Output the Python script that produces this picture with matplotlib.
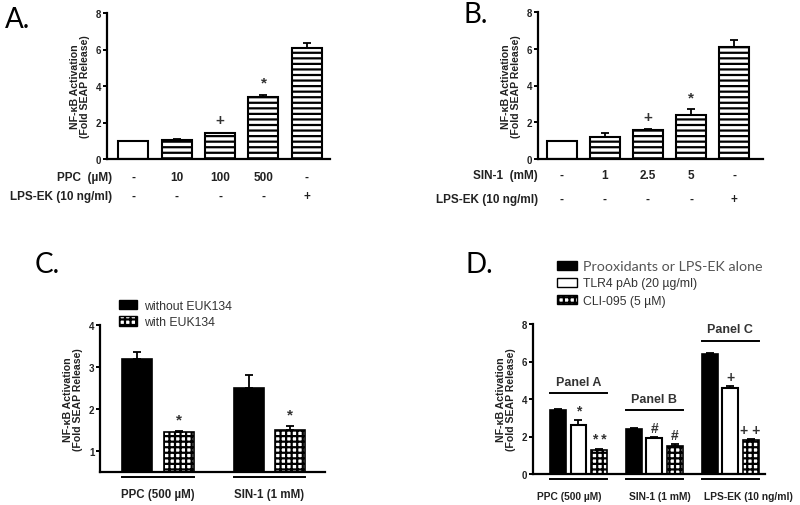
import numpy as np
import matplotlib
matplotlib.use("Agg")
import matplotlib.pyplot as plt
import matplotlib.patches as mpatches

plt.rcParams['font.family'] = ['Liberation Sans', 'DejaVu Sans']
plt.rcParams['hatch.linewidth'] = 1.6

W, H = 800, 506

# ---- data ----
# panel A: PPC dose response
a_vals = [1.0, 1.05, 1.4, 3.4, 6.1]
a_err = [0.0, 0.05, 0.05, 0.1, 0.25]
a_ppc = ['-', '10', '100', '500', '-']
a_lps = ['-', '-', '-', '-', '+']
a_marks = ['', '', '+', '*', '']

# panel B: SIN-1 dose response
b_vals = [1.0, 1.2, 1.6, 2.4, 6.1]
b_err = [0.0, 0.2, 0.05, 0.3, 0.4]
b_sin = ['-', '1', '2.5', '5', '-']
b_lps = ['-', '-', '-', '-', '+']
b_marks = ['', '', '+', '*', '']

# panel C: with / without EUK134
c_groups = ['PPC (500 \u00b5M)', 'SIN-1 (1 mM)']
c_without = [3.2, 2.5]
c_without_err = [0.15, 0.3]
c_with = [1.45, 1.5]
c_with_err = [0.03, 0.1]
c_marks = ['*', '*']

# panel D: TLR4 blockade
d_groups = ['PPC (500 \u00b5M)', 'SIN-1 (1 mM)', 'LPS-EK (10 ng/ml)']
d_alone = [3.4, 2.4, 6.4]
d_alone_err = [0.05, 0.05, 0.08]
d_tlr4 = [2.6, 1.9, 4.6]
d_tlr4_err = [0.3, 0.05, 0.08]
d_cli = [1.3, 1.5, 1.8]
d_cli_err = [0.05, 0.1, 0.05]
d_tlr4_marks = ['*', '#', '+']
d_cli_marks = ['* *', '#', '+ +']
d_panels = ['Panel A', 'Panel B', 'Panel C']
d_panel_y = [4.3, 3.4, 7.1]

ylab = 'NF-\u03baB Activation\n(Fold SEAP Release)'
txt = '#222222'


def px_axes(left, right, top, bottom):
    return fig.add_axes([left / W, 1 - bottom / H, (right - left) / W, (bottom - top) / H])


def style(ax):
    for s in ['top', 'right']:
        ax.spines[s].set_visible(False)
    for s in ['left', 'bottom']:
        ax.spines[s].set_linewidth(1.6)
    ax.tick_params(axis='y', length=3, width=1.4, labelsize=7, pad=1, labelcolor=txt)
    ax.tick_params(axis='x', length=0, labelbottom=False)
    for t in ax.get_yticklabels():
        t.set_fontweight('bold')
    ax.set_ylabel(ylab, fontsize=7.6, fontweight='bold', labelpad=4, linespacing=1.1, color=txt)


def errs(ax, x, v, e):
    x = np.asarray(x, float)
    v = np.asarray(v, float)
    e = np.asarray(e, float)
    ax.errorbar(x, v, yerr=[np.zeros_like(e), e], fmt='none', ecolor='k',
                elinewidth=1.3, capsize=3, capthick=1.3)


fig = plt.figure(figsize=(W / 100, H / 100), dpi=100)

# ---- A ----
ax = px_axes(107, 330, 14, 160)
x = np.arange(len(a_vals))
hatches = [''] + ['---'] * 4
for i in x:
    ax.bar(i, a_vals[i], width=0.69, color='white', edgecolor='k', linewidth=1.5, hatch=hatches[i])
errs(ax, x[1:], a_vals[1:], a_err[1:])
for i in x:
    if a_marks[i]:
        ax.text(i, a_vals[i] + a_err[i] + 0.3, a_marks[i], ha='center', va='bottom',
                fontsize=11, fontweight='bold', color='#333333')
ax.set_xlim(-0.6, 4.53)
ax.set_ylim(0, 8)
ax.set_yticks([0, 2, 4, 6, 8])
style(ax)
tr = ax.get_xaxis_transform()
ax.text(-0.48, -0.12, 'PPC  (\u00b5M)', transform=tr, ha='right', va='center', fontsize=8.5, fontweight='bold', color=txt)
ax.text(-0.48, -0.255, 'LPS-EK (10 ng/ml)', transform=tr, ha='right', va='center', fontsize=8.5, fontweight='bold', color=txt)
for i in x:
    ax.text(i, -0.12, a_ppc[i], transform=tr, ha='center', va='center', fontsize=8.5, fontweight='bold', color=txt)
    ax.text(i, -0.255, a_lps[i], transform=tr, ha='center', va='center', fontsize=8.5, fontweight='bold', color=txt)
fig.text(5 / W, 1 - 20 / H, 'A.', fontsize=20, va='center', ha='left', family=['Lato', 'DejaVu Sans'])

# ---- B ----
ax = px_axes(538, 763, 13, 160)
x = np.arange(len(b_vals))
for i in x:
    ax.bar(i, b_vals[i], width=0.69, color='white', edgecolor='k', linewidth=1.5, hatch=hatches[i])
errs(ax, x[1:], b_vals[1:], b_err[1:])
for i in x:
    if b_marks[i]:
        ax.text(i, b_vals[i] + b_err[i] + 0.25, b_marks[i], ha='center', va='bottom',
                fontsize=11, fontweight='bold', color='#333333')
ax.set_xlim(-0.55, 4.67)
ax.set_ylim(0, 8)
ax.set_yticks([0, 2, 4, 6, 8])
style(ax)
tr = ax.get_xaxis_transform()
ax.text(-0.55, -0.11, 'SIN-1  (mM)', transform=tr, ha='right', va='center', fontsize=8.5, fontweight='bold', color=txt)
ax.text(-0.55, -0.27, 'LPS-EK (10 ng/ml)', transform=tr, ha='right', va='center', fontsize=8.5, fontweight='bold', color=txt)
for i in x:
    ax.text(i, -0.11, b_sin[i], transform=tr, ha='center', va='center', fontsize=8.5, fontweight='bold', color=txt)
    ax.text(i, -0.27, b_lps[i], transform=tr, ha='center', va='center', fontsize=8.5, fontweight='bold', color=txt)
fig.text(463 / W, 1 - 15 / H, 'B.', fontsize=20, va='center', ha='left', family=['Lato', 'DejaVu Sans'])

# ---- C ----
ax = px_axes(100, 325, 326, 473)
g = np.arange(len(c_groups))
off = 0.371
bw = 0.27
ax.bar(g - off / 2, c_without, width=bw, color='black', edgecolor='k', linewidth=1.2)
ax.bar(g + off / 2, c_with, width=bw, color='white', edgecolor='k', linewidth=1.2, hatch='+++')
errs(ax, g - off / 2, c_without, c_without_err)
errs(ax, g + off / 2, c_with, c_with_err)
for i in g:
    ax.text(i + off / 2, c_with[i] + c_with_err[i] + 0.1, c_marks[i], ha='center', va='bottom',
            fontsize=11, fontweight='bold', color='#333333')
ax.set_xlim(-0.52, 1.5)
ax.set_ylim(0.5, 4)
ax.set_yticks([1, 2, 3, 4])
style(ax)
tr = ax.get_xaxis_transform()
for i in g:
    ax.plot([i - off / 2 - bw / 2, i + off / 2 + bw / 2], [-0.035, -0.035], transform=tr,
            color='k', lw=1.4, clip_on=False)
    ax.text(i, -0.15, c_groups[i], transform=tr, ha='center', va='center', fontsize=8.3, fontweight='bold', color=txt)
hl = [mpatches.Patch(facecolor='black', edgecolor='k', label='without EUK134'),
      mpatches.Patch(facecolor='white', edgecolor='k', hatch='+++', label='with EUK134')]
fig.legend(handles=hl, loc='upper left', bbox_to_anchor=(119 / W, 1 - 301 / H), frameon=False,
           fontsize=8.8, handlelength=1.5, handleheight=0.8, labelspacing=0.35, handletextpad=0.55,
           borderaxespad=0, borderpad=0, labelcolor='#333333')
fig.text(35 / W, 1 - 265 / H, 'C.', fontsize=20, va='center', ha='left', family=['Lato', 'DejaVu Sans'])

# ---- D ----
ax = px_axes(533, 765, 325, 475)
g = np.arange(len(d_groups))
off = 0.27
bw = 0.21
ax.bar(g - off, d_alone, width=bw, color='black', edgecolor='k', linewidth=1.2)
ax.bar(g, d_tlr4, width=bw, color='white', edgecolor='k', linewidth=1.5)
ax.bar(g + off, d_cli, width=bw, color='white', edgecolor='k', linewidth=1.2, hatch='+++')
errs(ax, g - off, d_alone, d_alone_err)
errs(ax, g, d_tlr4, d_tlr4_err)
errs(ax, g + off, d_cli, d_cli_err)
for i in g:
    ax.text(i, d_tlr4[i] + d_tlr4_err[i] + 0.12, d_tlr4_marks[i], ha='center', va='bottom',
            fontsize=10, fontweight='bold', color='#333333')
    ax.text(i + off, d_cli[i] + d_cli_err[i] + 0.12, d_cli_marks[i], ha='center', va='bottom',
            fontsize=10, fontweight='bold', color='#333333')
    ax.plot([i - off - bw / 2, i + off + bw / 2], [d_panel_y[i], d_panel_y[i]], color='k', lw=1.4)
    ax.text(i, d_panel_y[i] + 0.3, d_panels[i], ha='center', va='bottom', fontsize=9, fontweight='bold', color='#333333')
ax.set_xlim(-0.6, 2.46)
ax.set_ylim(0, 8)
ax.set_yticks([0, 2, 4, 6, 8])
style(ax)
tr = ax.get_xaxis_transform()
label_shift = [-0.12, 0.08, 0.24]
for i in g:
    ax.plot([i - off - bw / 2, i + off + bw / 2], [-0.03, -0.03], transform=tr,
            color='k', lw=1.4, clip_on=False)
    ax.text(i + label_shift[i], -0.15, d_groups[i], transform=tr, ha='center', va='center',
            fontsize=7.4, fontweight='bold', color=txt)
hl = [mpatches.Patch(facecolor='black', edgecolor='k', label='Prooxidants or LPS-EK alone'),
      mpatches.Patch(facecolor='white', edgecolor='k', label='TLR4 pAb (20 \u00b5g/ml)'),
      mpatches.Patch(facecolor='white', edgecolor='k', hatch='+++', label='CLI-095 (5 \u00b5M)')]
leg = fig.legend(handles=hl, loc='upper left', bbox_to_anchor=(557 / W, 1 - 261 / H), frameon=False,
                 fontsize=8.8, handlelength=1.6, handleheight=0.8, labelspacing=0.45, handletextpad=0.5,
                 borderaxespad=0, borderpad=0, labelcolor='#333333')
texts = leg.get_texts()
texts[0].set_fontsize(10.3)
texts[0].set_color('#555555')
texts[0].set_family(['Lato', 'DejaVu Sans'])
fig.text(465 / W, 1 - 265 / H, 'D.', fontsize=20, va='center', ha='left', family=['Lato', 'DejaVu Sans'])

fig.savefig('out.png', dpi=100)
